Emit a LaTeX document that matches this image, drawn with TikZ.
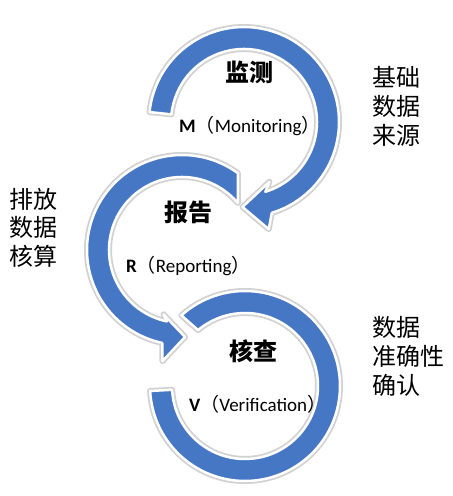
\documentclass[tikz,border=0pt]{standalone}
\usepackage{fontspec}
\setmainfont{Carlito}
\newfontfamily\cjk{Noto Sans CJK SC}
\definecolor{bandblue}{HTML}{4677C4}
\tikzset{
  band/.style={fill=bandblue, draw=white, line width=2.5pt, line join=round,
    preaction={draw=black!18, line width=6pt, line join=round}},
  title/.style={font=\cjk\bfseries\fontsize{24}{28}\selectfont, inner sep=0pt},
  sub/.style={font=\fontsize{19}{22}\selectfont, inner sep=0pt, anchor=base west},
  side/.style={font=\cjk\fontsize{24}{28}\selectfont, inner sep=0pt, anchor=base west},
}
\newcommand{\lab}[2]{\textbf{#1}{\cjk （}#2{\cjk ）}}
\begin{document}
\begin{tikzpicture}
\useasboundingbox[fill=white] (0,0) rectangle (453pt,496pt);
% arc 3 (Verification)
\begin{scope}[shift={(245pt,110pt)}]
  \path[band] (132:95pt) arc[start angle=132, end angle=-177, radius=95pt]
    -- (-177:73pt) arc[start angle=-177, end angle=130, radius=73pt] -- cycle;
\end{scope}
% arc 2 (Reporting)
\begin{scope}[shift={(182pt,246pt)}]
  \path[band] (54:95pt) arc[start angle=54, end angle=258, radius=95pt]
    -- (260:113pt) -- (272:87pt) -- (254:67pt) -- (258:73pt)
    arc[start angle=258, end angle=40, radius=73pt] -- cycle;
\end{scope}
% arc 1 (Monitoring)
\begin{scope}[shift={(244pt,374pt)}]
  \path[band] (174:95pt) arc[start angle=174, end angle=-73, radius=95pt]
    -- (-77:110pt) -- (-91:85pt) -- (-67:65pt) -- (-73:73pt)
    arc[start angle=-73, end angle=174, radius=73pt] -- cycle;
\end{scope}
% titles
\node[title] (t1) at (249pt,424pt) {监测};
\node[sub] (s1) at (179pt,363pt) {\lab{M}{Monitoring}};
\node[title] (t2) at (188pt,284pt) {报告};
\node[sub] (s2) at (126pt,223pt) {\lab{R}{Reporting}};
\node[title] (t3) at (253pt,145pt) {核查};
\node[sub] (s3) at (189pt,84pt) {\lab{V}{Verification}};
% side texts
\node[side] (a1) at (372pt,409pt) {基础};
\node[side] (a2) at (372pt,380pt) {数据};
\node[side] (a3) at (372pt,351pt) {来源};
\node[side] (b1) at (9pt,287pt) {排放};
\node[side] (b2) at (9pt,259pt) {数据};
\node[side] (b3) at (9pt,230pt) {核算};
\node[side] (c1) at (372pt,159pt) {数据};
\node[side] (c2) at (372pt,130pt) {准确性};
\node[side] (c3) at (372pt,101pt) {确认};
\end{tikzpicture}
\end{document}
